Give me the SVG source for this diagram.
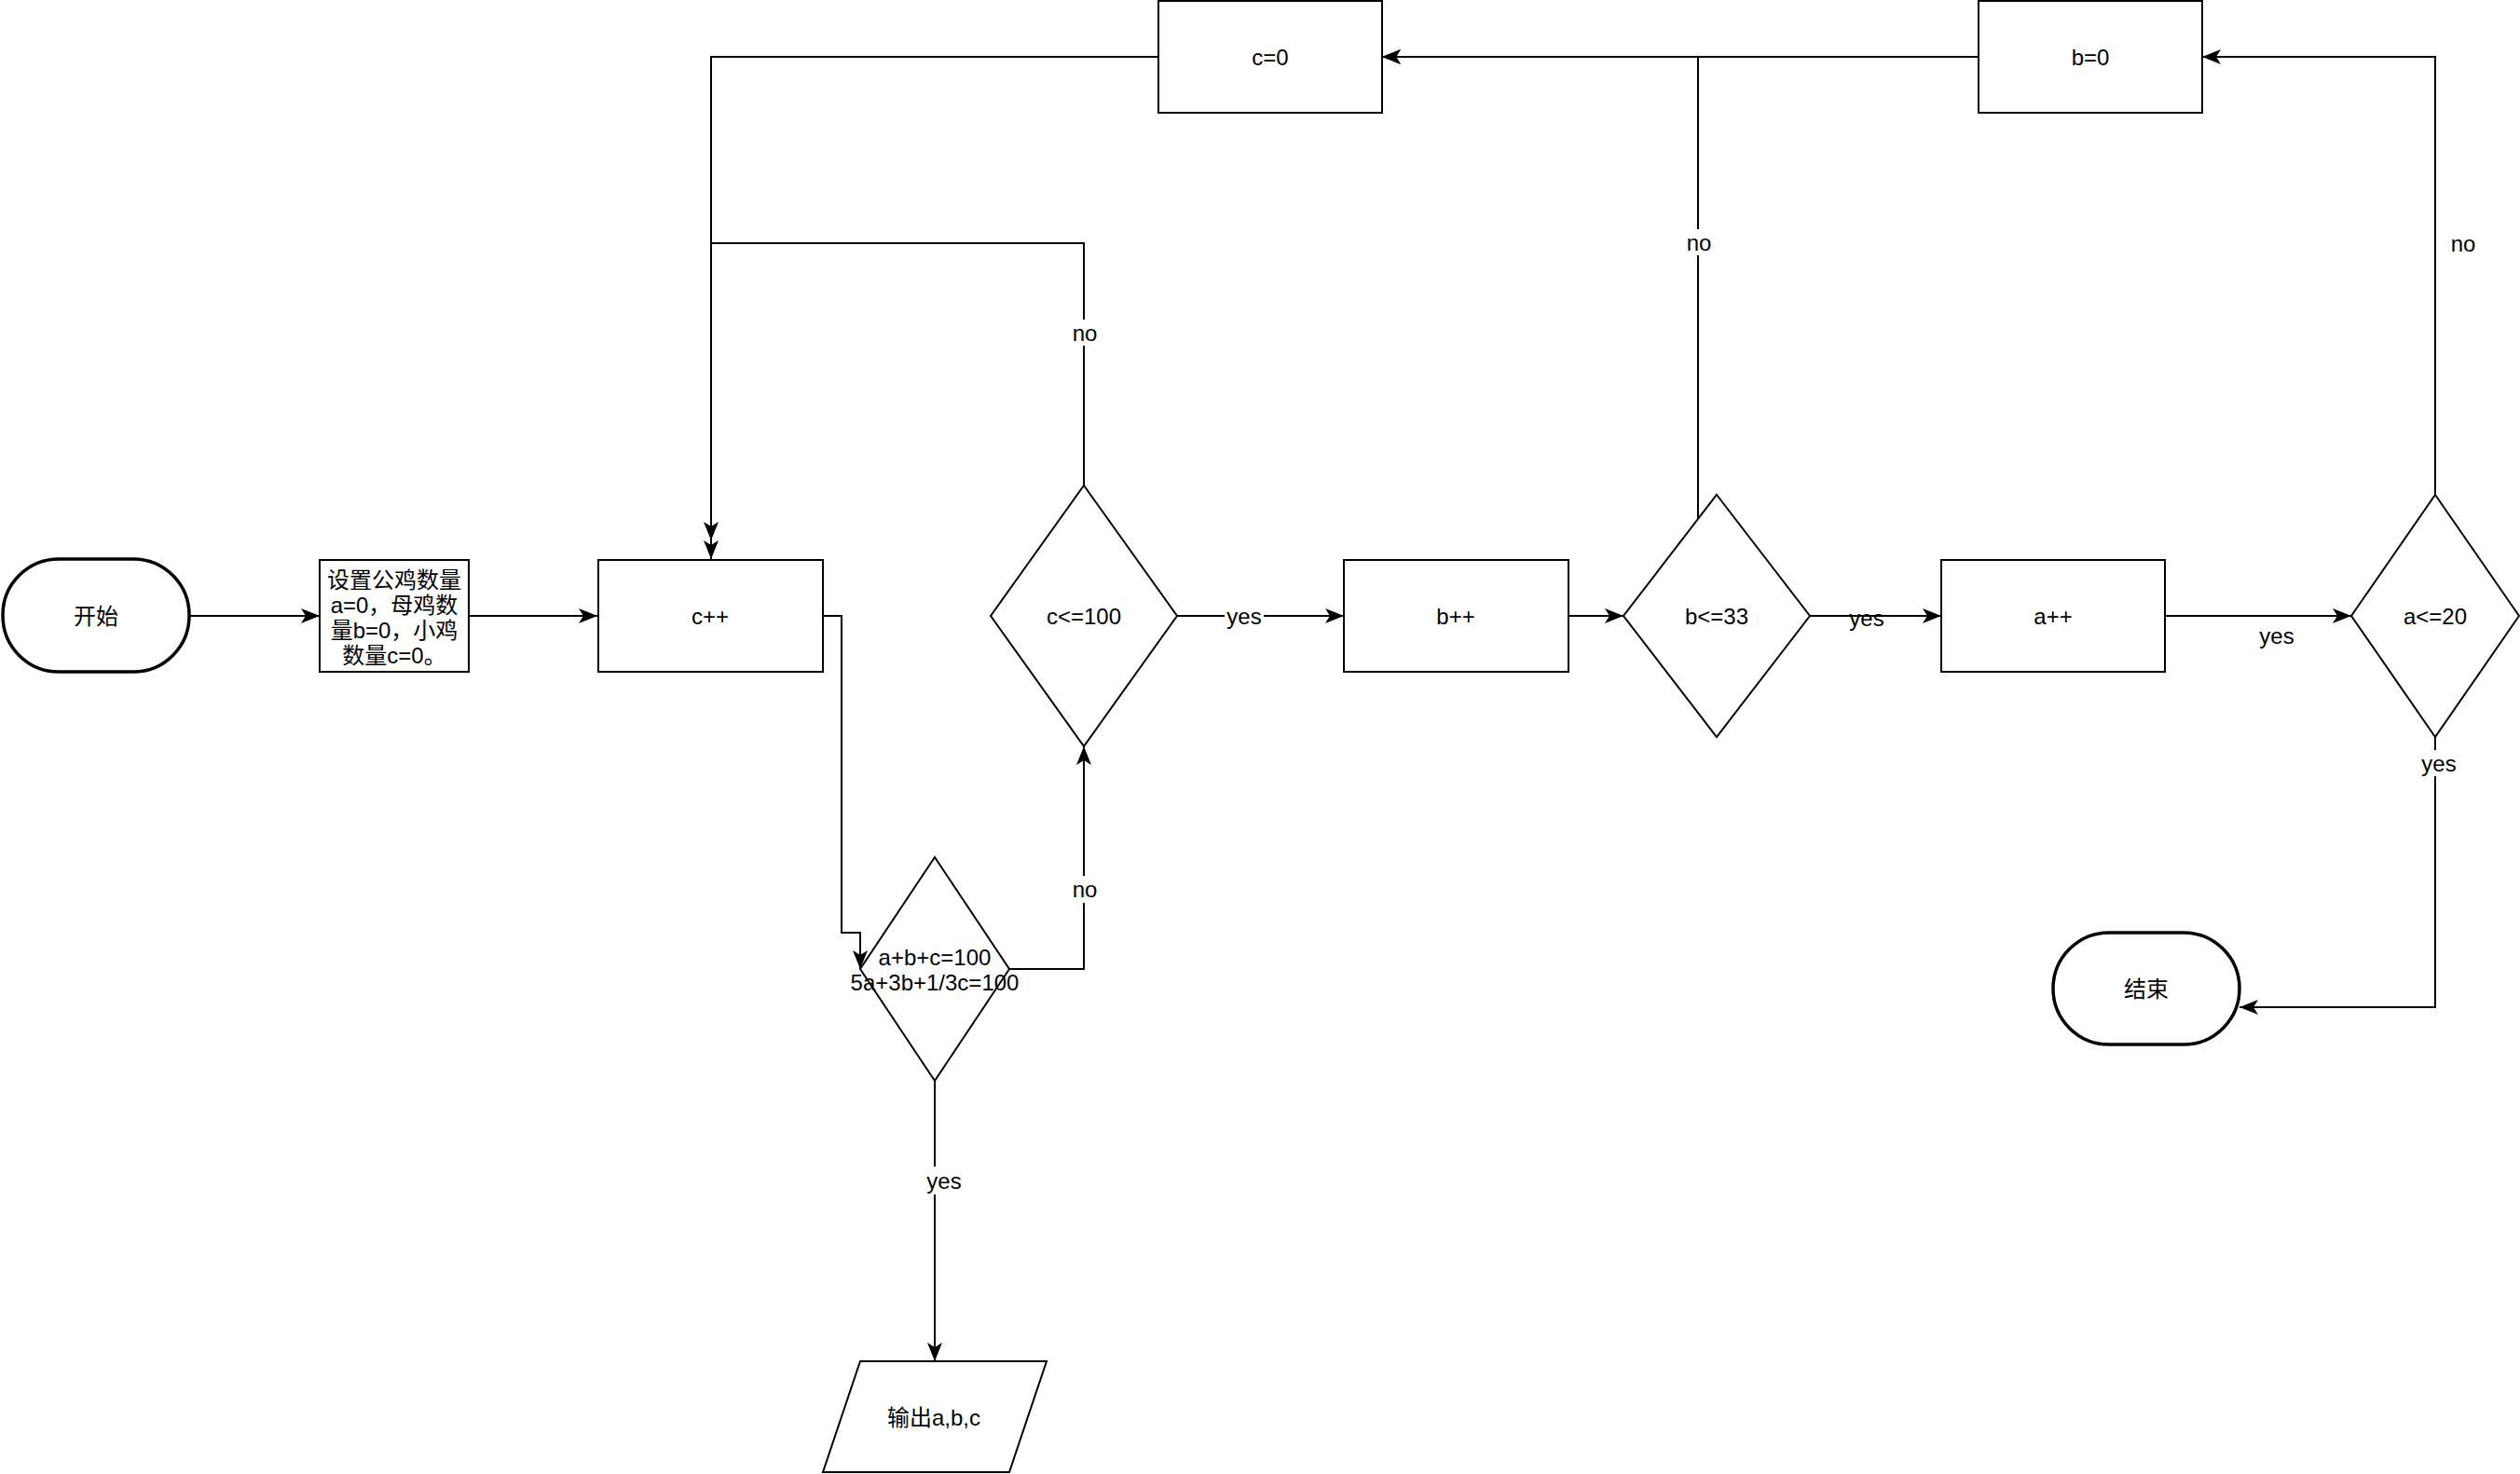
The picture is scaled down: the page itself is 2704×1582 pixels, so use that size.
<svg xmlns="http://www.w3.org/2000/svg" width="2704" height="1582" viewBox="0 0 2704 1582">
<defs>
<style>
text{font-family:"Liberation Sans","Noto Sans CJK SC",Arial,sans-serif;font-size:24px;fill:#000;text-anchor:middle;dominant-baseline:central}
.node{fill:#fff;stroke:#000;stroke-width:2}
.term{fill:#fff;stroke:#000;stroke-width:3.5}
.edge{fill:none;stroke:#000;stroke-width:2}
.arr{marker-end:url(#ah)}
.lbg{fill:#fff}
</style>
<marker id="ah" viewBox="0 0 20 16" refX="20" refY="8" markerWidth="20" markerHeight="16" markerUnits="userSpaceOnUse" orient="auto">
<path d="M0,0 L20,8 L0,16 L5,8 Z" fill="#000"/>
</marker>
</defs>
<rect width="2704" height="1582" fill="#fff"/>

<g id="connectors">
<path class="edge arr" d="M203,661 L343,661"/>
<path class="edge arr" d="M503,661 L641,661"/>
<path class="edge arr" d="M883,661 L903,661 L903,1001 L923,1001 L923,1040"/>
<path class="edge arr" d="M1083,1040 L1163,1040 L1163,801"/>
<path class="edge arr" d="M1003,1160 L1003,1461"/>
<path class="edge arr" d="M1163,521 L1163,261 L763,261 L763,580"/>
<path class="edge arr" d="M1243,61 L763,61 L763,600"/>
<path class="edge arr" d="M1263,661 L1442,661"/>
<path class="edge arr" d="M1683,661 L1742,661"/>
<path class="edge arr" d="M1942,661 L2083,661"/>
<path class="edge arr" d="M1822,557 L1822,61 L1483,61"/>
<path class="edge arr" d="M2123,61 L1483,61"/>
<path class="edge arr" d="M2323,661 L2523,661"/>
<path class="edge arr" d="M2613,531 L2613,61 L2363,61"/>
<path class="edge arr" d="M2613,791 L2613,1081 L2403,1081"/>
<g id="edge-labels">
<rect class="lbg" x="1148" y="343" width="30" height="28"/>
<text x="1164" y="357">no</text>
<rect class="lbg" x="1808" y="246" width="30" height="28"/>
<text x="1823" y="260">no</text>
<rect class="lbg" x="1314" y="648" width="42" height="28"/>
<text x="1335" y="661">yes</text>
<text x="2003" y="663">yes</text>
<text x="2443" y="682">yes</text>
<text x="2643" y="261">no</text>
<rect class="lbg" x="2596" y="805" width="42" height="28"/>
<text x="2617" y="819">yes</text>
<rect class="lbg" x="1149" y="940" width="30" height="29"/>
<text x="1164" y="954">no</text>
<rect class="lbg" x="992" y="1252" width="42" height="30"/>
<text x="1013" y="1267">yes</text>
</g>
</g>

<g id="start">
<rect class="term" x="3" y="600" width="200" height="121" rx="60" ry="60"/>
<text x="103" y="661">开始</text>
</g>
<g id="init">
<rect class="node" x="343" y="601" width="160" height="120"/>
<text x="423" y="622">设置公鸡数量</text>
<text x="423" y="649">a=0，母鸡数</text>
<text x="423" y="676">量b=0，小鸡</text>
<text x="423" y="703">数量c=0。</text>
</g>
<g id="cinc">
<rect class="node" x="642" y="601" width="241" height="120"/>
<text x="762" y="661">c++</text>
</g>
<g id="ccheck">
<polygon class="node" points="1163,521 1263,661 1163,801 1063,661"/>
<text x="1163" y="661">c&lt;=100</text>
</g>
<g id="binc">
<rect class="node" x="1442" y="601" width="241" height="120"/>
<text x="1562" y="661">b++</text>
</g>
<g id="bcheck">
<polygon class="node" points="1842,531 1942,661 1842,791 1742,661"/>
<text x="1842" y="661">b&lt;=33</text>
</g>
<g id="ainc">
<rect class="node" x="2083" y="601" width="240" height="120"/>
<text x="2203" y="661">a++</text>
</g>
<g id="acheck">
<polygon class="node" points="2613,531 2703,661 2613,791 2523,661"/>
<text x="2613" y="661">a&lt;=20</text>
</g>
<g id="bzero">
<rect class="node" x="2123" y="1" width="240" height="120"/>
<text x="2243" y="61">b=0</text>
</g>
<g id="czero">
<rect class="node" x="1243" y="1" width="240" height="120"/>
<text x="1363" y="61">c=0</text>
</g>
<g id="sumcheck">
<polygon class="node" points="1003,920 1083,1040 1003,1160 923,1040"/>
<text x="1003" y="1027">a+b+c=100</text>
<text x="1003" y="1054">5a+3b+1/3c=100</text>
</g>
<g id="output">
<polygon class="node" points="923,1461 1123,1461 1083,1580 883,1580"/>
<text x="1002" y="1521">输出a,b,c</text>
</g>
<g id="end">
<rect class="term" x="2203" y="1001" width="200" height="120" rx="60" ry="60"/>
<text x="2303" y="1061">结束</text>
</g>
</svg>
